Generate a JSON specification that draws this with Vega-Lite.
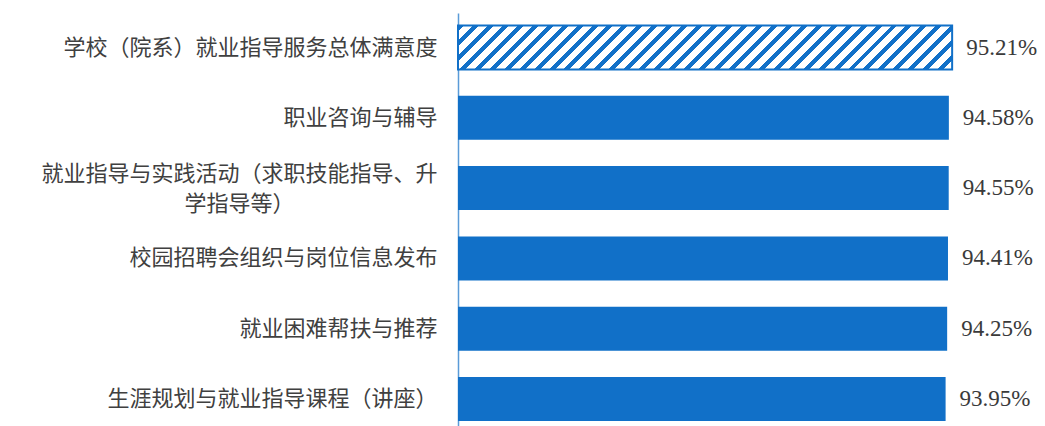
{
  "$schema": "https://vega.github.io/schema/vega-lite/v6.json",
  "autosize": "none",
  "width": 519,
  "height": 413,
  "padding": {"left": 458, "top": 13, "right": 68, "bottom": 0},
  "background": "#ffffff",
  "config": {"view": {"stroke": null}},
  "data": {
    "values": [
      {"item": "学校（院系）就业指导服务总体满意度", "rate": 0.9521, "kind": "overall"},
      {"item": "职业咨询与辅导", "rate": 0.9458, "kind": "item"},
      {"item": "就业指导与实践活动（求职技能指导、升学指导等）", "rate": 0.9455, "kind": "item"},
      {"item": "校园招聘会组织与岗位信息发布", "rate": 0.9441, "kind": "item"},
      {"item": "就业困难帮扶与推荐", "rate": 0.9425, "kind": "item"},
      {"item": "生涯规划与就业指导课程（讲座）", "rate": 0.9395, "kind": "item"}
    ]
  },
  "encoding": {
    "y": {
      "field": "item",
      "type": "nominal",
      "sort": ["学校（院系）就业指导服务总体满意度", "职业咨询与辅导", "就业指导与实践活动（求职技能指导、升学指导等）", "校园招聘会组织与岗位信息发布", "就业困难帮扶与推荐", "生涯规划与就业指导课程（讲座）"],
      "scale": {"paddingInner": 0.374, "paddingOuter": 0.1245, "align": 0.714},
      "axis": {
        "title": null,
        "ticks": false,
        "grid": false,
        "domainColor": "#5a9bd8",
        "domainWidth": 1.5,
        "labelFont": "Noto Sans CJK SC",
        "labelFontSize": 22,
        "labelColor": "#404040",
        "labelLimit": 0,
        "labelLineHeight": 30,
        "labelAlign": {"condition": {"test": "datum.value === '就业指导与实践活动（求职技能指导、升学指导等）'", "value": "center"}, "value": "right"},
        "labelPadding": {"condition": {"test": "datum.value === '就业指导与实践活动（求职技能指导、升学指导等）'", "value": 219}, "value": 21},
        "labelOffset": {"condition": {"test": "datum.value === '就业指导与实践活动（求职技能指导、升学指导等）'", "value": -14}, "value": 0},
        "labelExpr": "datum.value === '就业指导与实践活动（求职技能指导、升学指导等）' ? ['就业指导与实践活动（求职技能指导、升', '学指导等）'] : datum.label"
      }
    },
    "x": {
      "field": "rate",
      "type": "quantitative",
      "scale": {"domain": [0, 1], "nice": false, "zero": true},
      "axis": null
    }
  },
  "layer": [
    {
      "transform": [{"filter": "datum.kind === 'item'"}],
      "mark": {"type": "bar", "fill": "#1170c8"}
    },
    {
      "transform": [{"filter": "datum.kind === 'overall'"}],
      "mark": {
        "type": "bar",
        "stroke": "#1170c8",
        "strokeWidth": 2,
        "fill": {
          "gradient": "linear",
          "x1": 0, "y1": 0, "x2": 1.0805, "y2": 0.09624,
          "stops": [
            {"offset": 0, "color": "#1170c8"}, {"offset": 0.01111, "color": "#1170c8"}, {"offset": 0.01111, "color": "#ffffff"}, {"offset": 0.02778, "color": "#ffffff"},
            {"offset": 0.02778, "color": "#1170c8"}, {"offset": 0.03889, "color": "#1170c8"}, {"offset": 0.03889, "color": "#ffffff"}, {"offset": 0.05556, "color": "#ffffff"},
            {"offset": 0.05556, "color": "#1170c8"}, {"offset": 0.06667, "color": "#1170c8"}, {"offset": 0.06667, "color": "#ffffff"}, {"offset": 0.08333, "color": "#ffffff"},
            {"offset": 0.08333, "color": "#1170c8"}, {"offset": 0.09444, "color": "#1170c8"}, {"offset": 0.09444, "color": "#ffffff"}, {"offset": 0.11111, "color": "#ffffff"},
            {"offset": 0.11111, "color": "#1170c8"}, {"offset": 0.12222, "color": "#1170c8"}, {"offset": 0.12222, "color": "#ffffff"}, {"offset": 0.13889, "color": "#ffffff"},
            {"offset": 0.13889, "color": "#1170c8"}, {"offset": 0.15, "color": "#1170c8"}, {"offset": 0.15, "color": "#ffffff"}, {"offset": 0.16667, "color": "#ffffff"},
            {"offset": 0.16667, "color": "#1170c8"}, {"offset": 0.17778, "color": "#1170c8"}, {"offset": 0.17778, "color": "#ffffff"}, {"offset": 0.19444, "color": "#ffffff"},
            {"offset": 0.19444, "color": "#1170c8"}, {"offset": 0.20556, "color": "#1170c8"}, {"offset": 0.20556, "color": "#ffffff"}, {"offset": 0.22222, "color": "#ffffff"},
            {"offset": 0.22222, "color": "#1170c8"}, {"offset": 0.23333, "color": "#1170c8"}, {"offset": 0.23333, "color": "#ffffff"}, {"offset": 0.25, "color": "#ffffff"},
            {"offset": 0.25, "color": "#1170c8"}, {"offset": 0.26111, "color": "#1170c8"}, {"offset": 0.26111, "color": "#ffffff"}, {"offset": 0.27778, "color": "#ffffff"},
            {"offset": 0.27778, "color": "#1170c8"}, {"offset": 0.28889, "color": "#1170c8"}, {"offset": 0.28889, "color": "#ffffff"}, {"offset": 0.30556, "color": "#ffffff"},
            {"offset": 0.30556, "color": "#1170c8"}, {"offset": 0.31667, "color": "#1170c8"}, {"offset": 0.31667, "color": "#ffffff"}, {"offset": 0.33333, "color": "#ffffff"},
            {"offset": 0.33333, "color": "#1170c8"}, {"offset": 0.34444, "color": "#1170c8"}, {"offset": 0.34444, "color": "#ffffff"}, {"offset": 0.36111, "color": "#ffffff"},
            {"offset": 0.36111, "color": "#1170c8"}, {"offset": 0.37222, "color": "#1170c8"}, {"offset": 0.37222, "color": "#ffffff"}, {"offset": 0.38889, "color": "#ffffff"},
            {"offset": 0.38889, "color": "#1170c8"}, {"offset": 0.4, "color": "#1170c8"}, {"offset": 0.4, "color": "#ffffff"}, {"offset": 0.41667, "color": "#ffffff"},
            {"offset": 0.41667, "color": "#1170c8"}, {"offset": 0.42778, "color": "#1170c8"}, {"offset": 0.42778, "color": "#ffffff"}, {"offset": 0.44444, "color": "#ffffff"},
            {"offset": 0.44444, "color": "#1170c8"}, {"offset": 0.45556, "color": "#1170c8"}, {"offset": 0.45556, "color": "#ffffff"}, {"offset": 0.47222, "color": "#ffffff"},
            {"offset": 0.47222, "color": "#1170c8"}, {"offset": 0.48333, "color": "#1170c8"}, {"offset": 0.48333, "color": "#ffffff"}, {"offset": 0.5, "color": "#ffffff"},
            {"offset": 0.5, "color": "#1170c8"}, {"offset": 0.51111, "color": "#1170c8"}, {"offset": 0.51111, "color": "#ffffff"}, {"offset": 0.52778, "color": "#ffffff"},
            {"offset": 0.52778, "color": "#1170c8"}, {"offset": 0.53889, "color": "#1170c8"}, {"offset": 0.53889, "color": "#ffffff"}, {"offset": 0.55556, "color": "#ffffff"},
            {"offset": 0.55556, "color": "#1170c8"}, {"offset": 0.56667, "color": "#1170c8"}, {"offset": 0.56667, "color": "#ffffff"}, {"offset": 0.58333, "color": "#ffffff"},
            {"offset": 0.58333, "color": "#1170c8"}, {"offset": 0.59444, "color": "#1170c8"}, {"offset": 0.59444, "color": "#ffffff"}, {"offset": 0.61111, "color": "#ffffff"},
            {"offset": 0.61111, "color": "#1170c8"}, {"offset": 0.62222, "color": "#1170c8"}, {"offset": 0.62222, "color": "#ffffff"}, {"offset": 0.63889, "color": "#ffffff"},
            {"offset": 0.63889, "color": "#1170c8"}, {"offset": 0.65, "color": "#1170c8"}, {"offset": 0.65, "color": "#ffffff"}, {"offset": 0.66667, "color": "#ffffff"},
            {"offset": 0.66667, "color": "#1170c8"}, {"offset": 0.67778, "color": "#1170c8"}, {"offset": 0.67778, "color": "#ffffff"}, {"offset": 0.69444, "color": "#ffffff"},
            {"offset": 0.69444, "color": "#1170c8"}, {"offset": 0.70556, "color": "#1170c8"}, {"offset": 0.70556, "color": "#ffffff"}, {"offset": 0.72222, "color": "#ffffff"},
            {"offset": 0.72222, "color": "#1170c8"}, {"offset": 0.73333, "color": "#1170c8"}, {"offset": 0.73333, "color": "#ffffff"}, {"offset": 0.75, "color": "#ffffff"},
            {"offset": 0.75, "color": "#1170c8"}, {"offset": 0.76111, "color": "#1170c8"}, {"offset": 0.76111, "color": "#ffffff"}, {"offset": 0.77778, "color": "#ffffff"},
            {"offset": 0.77778, "color": "#1170c8"}, {"offset": 0.78889, "color": "#1170c8"}, {"offset": 0.78889, "color": "#ffffff"}, {"offset": 0.80556, "color": "#ffffff"},
            {"offset": 0.80556, "color": "#1170c8"}, {"offset": 0.81667, "color": "#1170c8"}, {"offset": 0.81667, "color": "#ffffff"}, {"offset": 0.83333, "color": "#ffffff"},
            {"offset": 0.83333, "color": "#1170c8"}, {"offset": 0.84444, "color": "#1170c8"}, {"offset": 0.84444, "color": "#ffffff"}, {"offset": 0.86111, "color": "#ffffff"},
            {"offset": 0.86111, "color": "#1170c8"}, {"offset": 0.87222, "color": "#1170c8"}, {"offset": 0.87222, "color": "#ffffff"}, {"offset": 0.88889, "color": "#ffffff"},
            {"offset": 0.88889, "color": "#1170c8"}, {"offset": 0.9, "color": "#1170c8"}, {"offset": 0.9, "color": "#ffffff"}, {"offset": 0.91667, "color": "#ffffff"},
            {"offset": 0.91667, "color": "#1170c8"}, {"offset": 0.92778, "color": "#1170c8"}, {"offset": 0.92778, "color": "#ffffff"}, {"offset": 0.94444, "color": "#ffffff"},
            {"offset": 0.94444, "color": "#1170c8"}, {"offset": 0.95556, "color": "#1170c8"}, {"offset": 0.95556, "color": "#ffffff"}, {"offset": 0.97222, "color": "#ffffff"},
            {"offset": 0.97222, "color": "#1170c8"}, {"offset": 0.98333, "color": "#1170c8"}, {"offset": 0.98333, "color": "#ffffff"}, {"offset": 1, "color": "#ffffff"}
          ]
        }
      }
    },
    {
      "mark": {
        "type": "text",
        "align": "left",
        "baseline": "middle",
        "dx": 14,
        "font": "Liberation Serif",
        "fontSize": 23,
        "fill": "#3a3a3a"
      },
      "encoding": {
        "text": {"field": "rate", "type": "quantitative", "format": ".2%"}
      }
    }
  ]
}
